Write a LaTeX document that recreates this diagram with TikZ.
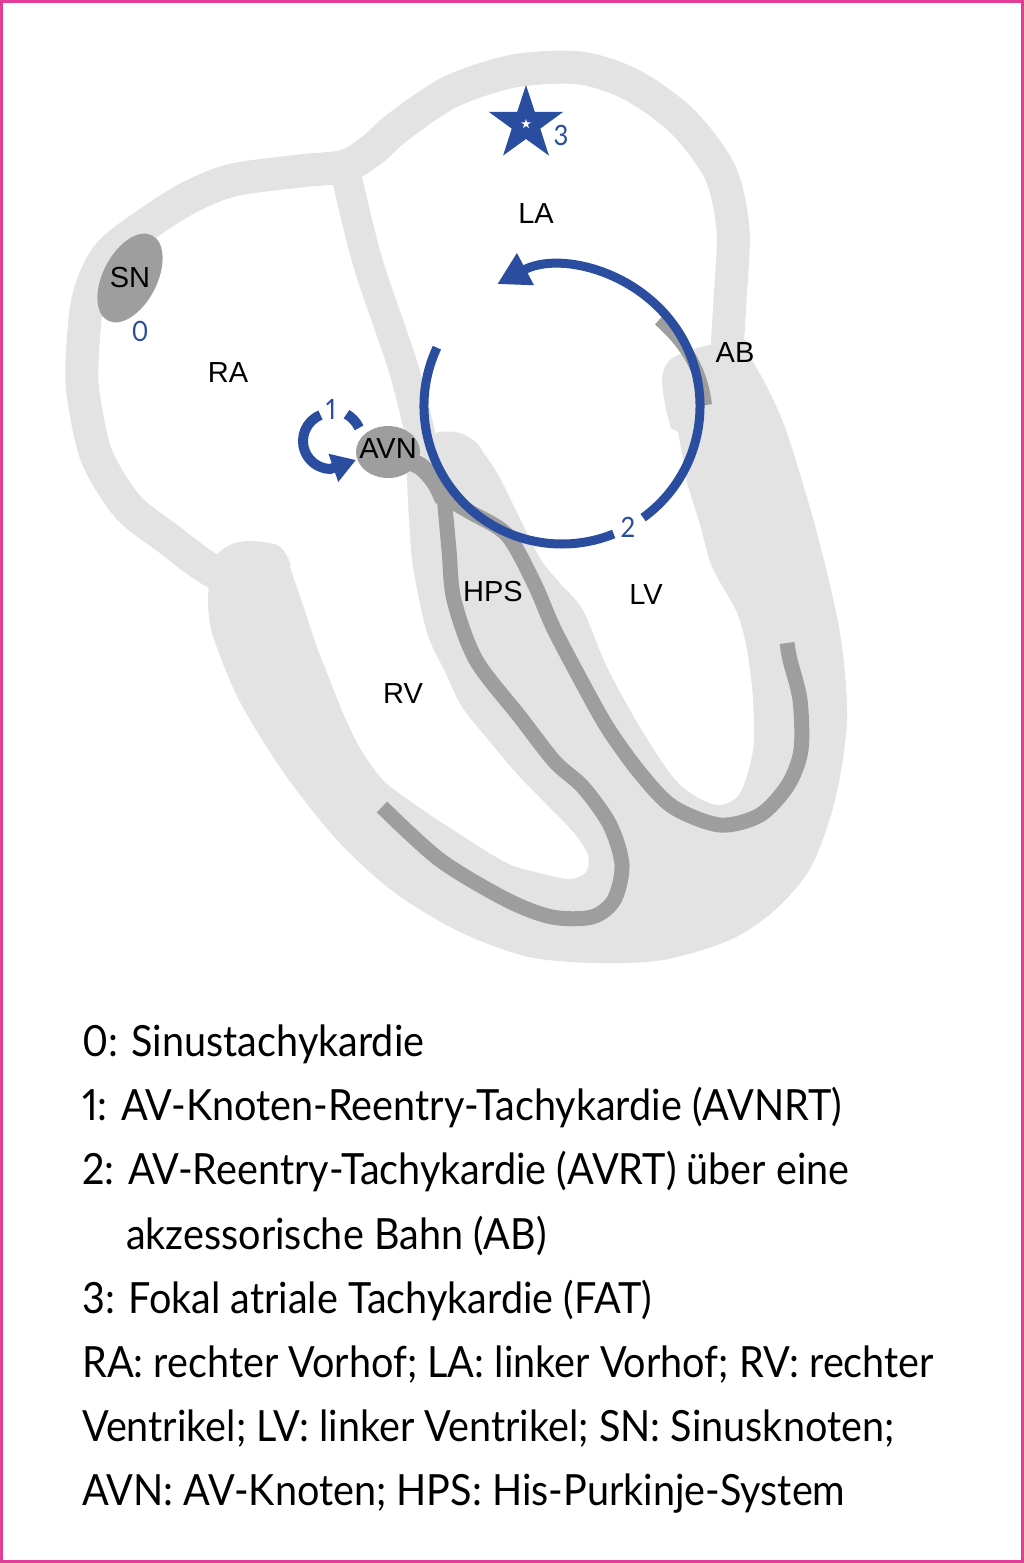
\documentclass[tikz,border=0pt]{standalone}
\usepackage{fontspec}
\newfontfamily\labelfont{Liberation Sans}
\newfontfamily\legendfont[FakeStretch=0.92,Numbers=Proportional]{Lato}
\usetikzlibrary{arrows.meta,shapes.geometric}
\definecolor{wallgrey}{RGB}{227,227,227}
\definecolor{hpsgrey}{RGB}{158,158,158}
\definecolor{reentry}{RGB}{42,77,159}
\definecolor{frame}{RGB}{226,62,151}
\begin{document}
\begin{tikzpicture}[x=1pt,y=-1pt,
    wallband/.style={draw=wallgrey,line width=33,line join=round},
    hps/.style={draw=hpsgrey,line width=15},
    circuit/.style={draw=reentry,line width=9},
    lbl/.style={font=\labelfont\fontsize{29}{29}\selectfont,inner sep=0},
    num/.style={font=\legendfont\fontsize{28}{28}\selectfont,text=reentry,inner sep=0},
    legend/.style={font=\legendfont\fontsize{43}{43}\selectfont,anchor=base west,inner sep=0}]
  \useasboundingbox (0,0) rectangle (1024,1563);
  \fill[white] (0,0) rectangle (1024,1563);
  \draw[frame,line width=3] (1.5,1.5) rectangle (1022.5,1561.5);

  \fill[wallgrey] plot[smooth] coordinates {(208,597) (213,560) (230,545) (250,541) (277,545) (287,556) (291,566)}
    -- (305,560) -- (406,488) -- plot[smooth] coordinates {(407,480) (408,457) (420,440) (440,432) (460,433) (477,443) (483,453)}
    -- (674,440) -- plot[smooth] coordinates {(666,410) (662,380) (668,362) (685,352) (710,345) (745,340) (752,360) (767,387) (787,433) (817,533) (840,633) (847,720) (835,800) (811,867) (775,910) (730,940) (663,960) (596,963) (529,957) (462,933) (395,893) (337,840) (284,773) (239,700) (212,633) (208,597)} -- cycle;
  \fill[white] (290,567) -- (300,545) -- (395,470) -- plot[smooth] coordinates {(407,480) (409,520) (413,567) (427,633) (445,672) (462,707) (490,742) (516,773) (545,803) (574,833) (588,855) (586,872) (570,879) (540,873) (507,863) (458,833) (413,803) (383,780) (360,748) (343,713) (330,680) (317,647) (303,605) (290,567)} -- cycle;
  \fill[white] (484,453) -- (492,420) -- (600,395) -- (678,432) -- plot[smooth] coordinates {(687,483) (700,525) (712,567) (737,613) (747,650) (753,700) (753,750) (740,793) (720,805) (697,797) (673,777) (640,727) (607,667) (583,610) (560,583) (540,558) (513,504) (498,474) (484,453)} -- cycle;

  \draw[wallband] plot[smooth] coordinates {(232,583) (200,563) (170,540) (128,507) (97,457) (84,400) (82,363) (88,300) (108,255) (150,222) (190,197) (233,180) (300,171) (345,166) (372,150) (398,127) (450,92) (514,71) (580,68) (632,85) (682,121) (720,172) (733,230) (730,300) (726,365)};
  \draw[wallband,line width=30] plot[smooth] coordinates {(345,170) (368,263) (404,370) (425,455)};

  \fill[hpsgrey,rotate around={62.6:(130,278)}] (130,278) ellipse[x radius=48,y radius=27];
  \fill[hpsgrey] (388,452) ellipse[x radius=32,y radius=26];
  \draw[hps,line width=18] plot[smooth] coordinates {(395,456) (420,466) (435,482) (444,500)};
  \draw[hps] plot[smooth] coordinates {(444,495) (449,550) (454,600) (476,660) (520,717) (555,762) (583,787) (610,825) (622,865) (614,900) (592,917) (552,917) (507,900) (440,860) (382,807)};
  \draw[hps] plot[smooth] coordinates {(440,495) (470,512) (507,535) (534,583) (553,627) (577,673) (607,727) (640,773) (673,807) (720,825) (760,815) (788,785) (801,750) (800,700) (790,660) (787,643)};
  \draw[hps,line width=12] (659,320) .. controls (688,346) and (702,372) .. (706,405);

  \coordinate (avrt) at (562,406);
  \draw[circuit] (avrt) ++(-155:138) arc[start angle=-155,end angle=-292,radius=138];
  \draw[circuit,-{Triangle[length=32pt,width=34pt]}] (avrt) ++(-306:138) arc[start angle=-306,end angle=-478,radius=138];
  \coordinate (avnrt) at (331,441);
  \draw[circuit,line width=10] (avnrt) ++(-25:31) arc[start angle=-25,end angle=-60,radius=31];
  \draw[circuit,line width=10,-{Triangle[length=24pt,width=28pt]}] (avnrt) ++(-112:28) arc[start angle=-112,end angle=-268,radius=28] -- ++(26,-9);

  \node[star,star points=5,star point ratio=2.6,fill=reentry,minimum size=78pt,inner sep=0] (focus) at (526,124) {};
  \node[star,star points=5,star point ratio=2.6,fill=white,minimum size=10pt,inner sep=0] (spot) at (focus) {};

  \node[lbl] (sn) at (130,278) {SN};
  \node[lbl] (ra) at (228,373) {RA};
  \node[lbl] (la) at (536,214) {LA};
  \node[lbl] (ab) at (735,353) {AB};
  \node[lbl] (avn) at (388,449) {AVN};
  \node[lbl] (his) at (493,592) {HPS};
  \node[lbl] (lv) at (646,595) {LV};
  \node[lbl] (rv) at (403,694) {RV};
  \node[num] (n0) at (140,331) {0};
  \node[num] (n1) at (331,409) {1};
  \node[num] (n2) at (628,527) {2};
  \node[num] (n3) at (561,135) {3};

  \node[legend] (l0) at (82,1056) {0: Sinustachykardie};
  \node[legend] (l1) at (82,1120) {1: AV-Knoten-Reentry-Tachykardie (AVNRT)};
  \node[legend] (l2) at (82,1184) {2: AV-Reentry-Tachykardie (AVRT) über eine};
  \node[legend] (l2b) at (126,1249) {akzessorische Bahn (AB)};
  \node[legend] (l3) at (82,1313) {3: Fokal atriale Tachykardie (FAT)};
  \node[legend] (l4) at (82,1377) {RA: rechter Vorhof; LA: linker Vorhof; RV: rechter};
  \node[legend] (l5) at (82,1441) {Ventrikel; LV: linker Ventrikel; SN: Sinusknoten;};
  \node[legend] (l6) at (82,1505) {AVN: AV-Knoten; HPS: His-Purkinje-System};
\end{tikzpicture}
\end{document}
